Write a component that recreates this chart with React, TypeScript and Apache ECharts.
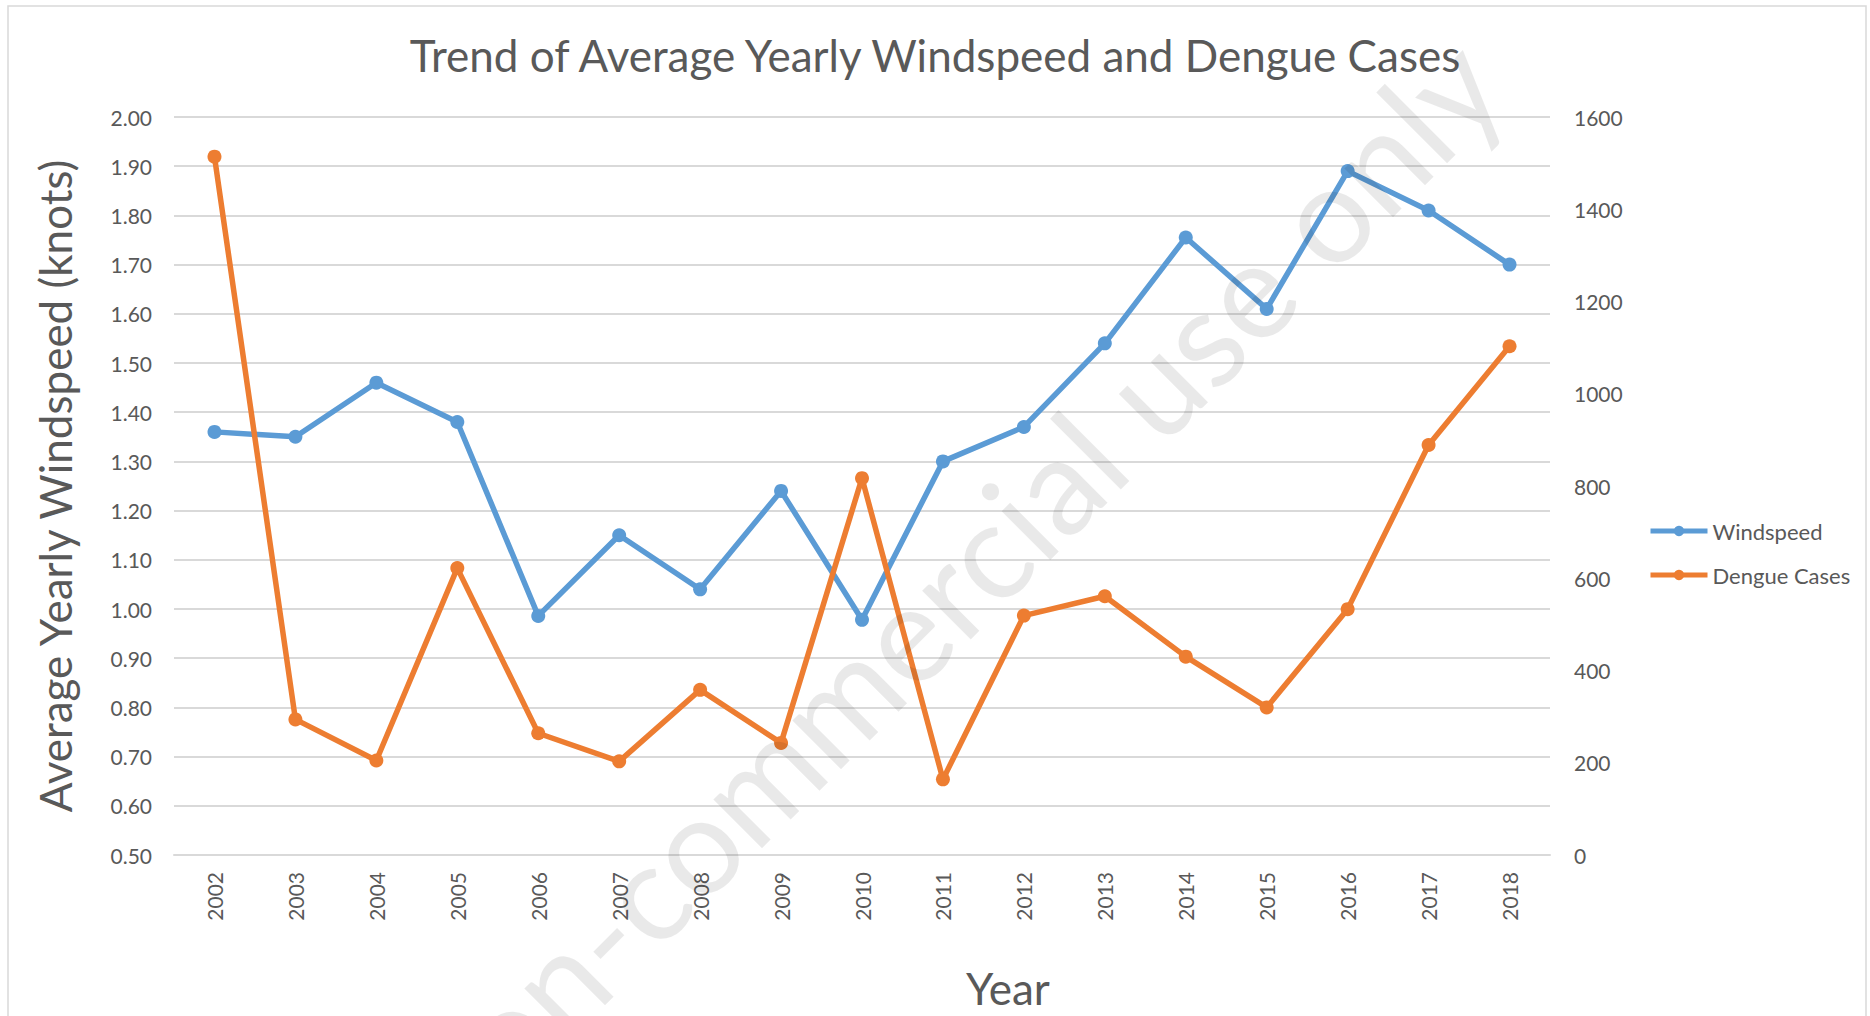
import React, { useEffect, useRef } from "react";
import * as echarts from "echarts";

const years = ["2002","2003","2004","2005","2006","2007","2008","2009","2010","2011","2012","2013","2014","2015","2016","2017","2018"];
const windspeed = [1.36, 1.35, 1.46, 1.38, 0.986, 1.15, 1.04, 1.24, 0.978, 1.30, 1.37, 1.54, 1.755, 1.61, 1.89, 1.81, 1.70];
const dengueCases = [1514, 294, 205, 622, 264, 203, 358, 243, 817, 164, 519, 561, 430, 320, 533, 889, 1103];

const TITLE = "Trend of Average Yearly Windspeed and Dengue Cases";
const Y_LEFT_NAME = "Average Yearly Windspeed (knots)";
const X_NAME = "Year";
const WATERMARK = "non-commercial use only";

const FONT = "Lato, 'Open Sans', sans-serif";
const TEXT = "#595959";
const GRID = "#d9d9d9";
const BLUE = "#5B9BD5";
const ORANGE = "#ED7D31";

export default function App() {
  const ref = useRef<HTMLDivElement>(null);
  useEffect(() => {
    if (!ref.current) return;
    const chart = echarts.init(ref.current, null, { renderer: "svg" });
    chart.setOption({
      animation: false,
      backgroundColor: "#ffffff",
      textStyle: { fontFamily: FONT, color: TEXT },
      title: {
        text: TITLE,
        left: "center",
        top: 33,
        padding: 0,
        textStyle: { fontFamily: FONT, fontSize: 44, fontWeight: "normal", color: TEXT },
      },
      legend: {
        orient: "vertical",
        left: 1648,
        top: 520,
        padding: 0,
        itemWidth: 57,
        itemHeight: 13,
        itemGap: 22,
        lineStyle: { width: 5 },
        textStyle: { fontFamily: FONT, fontSize: 22, color: TEXT },
        data: ["Windspeed", "Dengue Cases"],
      },
      grid: { left: 174, right: 320, top: 117, bottom: 161, containLabel: false },
      xAxis: {
        type: "category",
        data: years,
        boundaryGap: true,
        name: X_NAME,
        nameLocation: "middle",
        nameGap: 111,
        nameTextStyle: { fontFamily: FONT, fontSize: 44, color: TEXT, padding: [0, 0, 0, 292] },
        axisLine: { show: true, lineStyle: { color: GRID, width: 2 } },
        axisTick: { show: false },
        axisLabel: { rotate: 90, margin: 17, fontFamily: FONT, fontSize: 21, color: TEXT },
        splitLine: { show: false },
      },
      yAxis: [
        {
          type: "value",
          min: 0.5,
          max: 2.0,
          interval: 0.1,
          name: Y_LEFT_NAME,
          nameLocation: "middle",
          nameGap: 97,
          nameTextStyle: { fontFamily: FONT, fontSize: 44, color: TEXT },
          axisLine: { show: false },
          axisTick: { show: false },
          axisLabel: {
            margin: 22,
            fontFamily: FONT,
            fontSize: 21,
            color: TEXT,
            formatter: (v: number) => v.toFixed(2),
          },
          splitLine: { show: true, lineStyle: { color: GRID, width: 2 } },
        },
        {
          type: "value",
          min: 0,
          max: 1600,
          interval: 200,
          position: "right",
          axisLine: { show: false },
          axisTick: { show: false },
          axisLabel: {
            margin: 24,
            fontFamily: FONT,
            fontSize: 21,
            color: TEXT,
            formatter: (v: number) => String(v),
          },
          splitLine: { show: false },
        },
      ],
      series: [
        {
          name: "Windspeed",
          type: "line",
          yAxisIndex: 0,
          data: windspeed,
          symbol: "circle",
          symbolSize: 14,
          color: BLUE,
          lineStyle: { color: BLUE, width: 5.5 },
          itemStyle: { color: BLUE },
          z: 3,
        },
        {
          name: "Dengue Cases",
          type: "line",
          yAxisIndex: 1,
          data: dengueCases,
          symbol: "circle",
          symbolSize: 14,
          color: ORANGE,
          lineStyle: { color: ORANGE, width: 5.5 },
          itemStyle: { color: ORANGE },
          z: 4,
        },
      ],
      graphic: [
        {
          type: "rect",
          silent: true,
          z: -1,
          shape: { x: 8, y: 6, width: 1858, height: 1030 },
          style: { fill: "none", stroke: GRID, lineWidth: 1.5 },
        },
        {
          type: "text",
          silent: true,
          z: 100,
          x: 948,
          y: 588,
          rotation: Math.PI / 4,
          style: {
            text: WATERMARK,
            fontFamily: FONT,
            fontSize: 136,
            fontWeight: "normal",
            fill: "rgba(0,0,0,0.085)",
            align: "center",
            verticalAlign: "middle",
          },
        },
      ],
    });
    return () => chart.dispose();
  }, []);
  return (
    <div
      ref={ref}
      style={{ position: "fixed", left: 0, top: 0, width: 1870, height: 1016 }}
    />
  );
}
